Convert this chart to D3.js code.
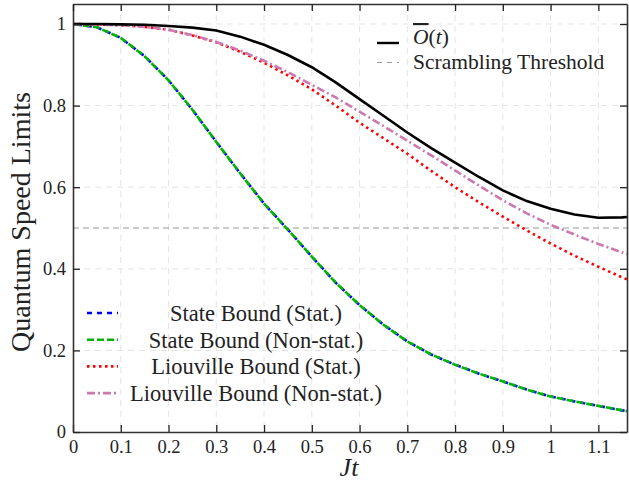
<!DOCTYPE html>
<html>
<head>
<meta charset="utf-8">
<script src="https://cdn.jsdelivr.net/npm/d3@7"></script>
<style>
  body { margin: 0; background: #fff; }
  text { fill: #222; }
</style>
</head>
<body>
<svg></svg>
<script>
// data
let times      = [0, 0.05, 0.1, 0.15, 0.2, 0.25, 0.3, 0.35, 0.4, 0.45, 0.5, 0.55, 0.6, 0.65, 0.7, 0.75, 0.8, 0.85, 0.9, 0.95, 1.0, 1.05, 1.1, 1.15, 1.16]
let otoc       = [1, 1.0, 0.999, 0.998, 0.995, 0.991, 0.984, 0.969, 0.949, 0.924, 0.894, 0.857, 0.816, 0.775, 0.734, 0.696, 0.660, 0.625, 0.592, 0.566, 0.547, 0.533, 0.525, 0.526, 0.527]
let stateStat  = [1, 0.992, 0.966, 0.921, 0.862, 0.790, 0.711, 0.634, 0.560, 0.496, 0.430, 0.366, 0.311, 0.263, 0.222, 0.190, 0.165, 0.143, 0.124, 0.104, 0.087, 0.075, 0.064, 0.053, 0.051]
let stateNon   = [1, 0.992, 0.966, 0.921, 0.862, 0.790, 0.711, 0.634, 0.560, 0.496, 0.430, 0.366, 0.311, 0.263, 0.222, 0.190, 0.165, 0.143, 0.124, 0.104, 0.087, 0.075, 0.064, 0.053, 0.051]
let liouStat   = [1, 0.999, 0.997, 0.993, 0.986, 0.972, 0.955, 0.932, 0.905, 0.874, 0.840, 0.800, 0.758, 0.720, 0.682, 0.640, 0.600, 0.563, 0.528, 0.494, 0.462, 0.432, 0.405, 0.379, 0.374]
let liouNon    = [1, 0.999, 0.997, 0.993, 0.986, 0.973, 0.956, 0.935, 0.910, 0.882, 0.851, 0.820, 0.785, 0.750, 0.714, 0.678, 0.641, 0.604, 0.568, 0.536, 0.508, 0.484, 0.461, 0.440, 0.436]
let threshold  = 0.5
let xTicks = [0, 0.1, 0.2, 0.3, 0.4, 0.5, 0.6, 0.7, 0.8, 0.9, 1, 1.1]
let yTicks = [0, 0.2, 0.4, 0.6, 0.8, 1]

let serif = 'Liberation Serif'

let width = 629, height = 491
let margin = {top: 4, right: 2, bottom: 59, left: 73}
let innerWidth = width - margin.left - margin.right,
    innerHeight = height - margin.top - margin.bottom

let svg = d3.select('svg').attr('width', width).attr('height', height)
let g = svg.append('g').attr('transform', 'translate(' + margin.left + ',' + margin.top + ')')

let xScale = d3.scaleLinear().domain([0, 1.16]).range([0, innerWidth])
let yScale = d3.scaleLinear().domain([0, 1.049]).range([innerHeight, 0])

// grid
g.append('g').selectAll('line').data(xTicks.slice(1)).enter().append('line')
  .attr('x1', d => xScale(d)).attr('x2', d => xScale(d))
  .attr('y1', 0).attr('y2', innerHeight)
  .attr('stroke', '#e4e4e4').attr('stroke-dasharray', '6,5')
g.append('g').selectAll('line').data(yTicks.slice(1)).enter().append('line')
  .attr('x1', 0).attr('x2', innerWidth)
  .attr('y1', d => yScale(d)).attr('y2', d => yScale(d))
  .attr('stroke', '#e4e4e4').attr('stroke-dasharray', '6,5')

// threshold
g.append('line')
  .attr('x1', 0).attr('x2', innerWidth)
  .attr('y1', yScale(threshold)).attr('y2', yScale(threshold))
  .attr('stroke', '#999').attr('stroke-width', 1.2).attr('stroke-dasharray', '6,4')

let line = vals => d3.line().x((d, i) => xScale(times[i])).y(d => yScale(d))(vals)

let series = [
  {name: 'State Bound (Stat.)', vals: stateStat, color: '#0000ff', dash: '5,5', off: -4, w: 2.6},
  {name: 'State Bound (Non-stat.)', vals: stateNon, color: '#00b400', dash: '7,3', off: 0, w: 2.6},
  {name: 'Liouville Bound (Stat.)', vals: liouStat, color: '#ff0000', dash: '2.5,3.5', off: 0, w: 2.6},
  {name: 'Liouville Bound (Non-stat.)', vals: liouNon, color: '#cc79b0', dash: '8,3,2,3', off: 0, w: 2.6}
]

let clip = svg.append('clipPath').attr('id', 'clip').append('rect')
  .attr('width', innerWidth).attr('height', innerHeight)
let plot = g.append('g').attr('clip-path', 'url(#clip)')

series.forEach(s => {
  plot.append('path').attr('d', line(s.vals))
    .attr('fill', 'none').attr('stroke', s.color)
    .attr('stroke-width', s.w).attr('stroke-dasharray', s.dash)
    .attr('stroke-dashoffset', s.off)
})
plot.append('path').attr('d', line(otoc))
  .attr('fill', 'none').attr('stroke', '#000').attr('stroke-width', 2.6)

// axes with inward ticks
let fmt = d => d3.format('')(d)
let xAxis = d3.axisBottom(xScale).tickValues(xTicks).tickSizeInner(-7).tickSizeOuter(0).tickPadding(8).tickFormat(fmt)
let yAxis = d3.axisLeft(yScale).tickValues(yTicks).tickSizeInner(-7).tickSizeOuter(0).tickPadding(7).tickFormat(fmt)
let xTop = d3.axisTop(xScale).tickValues(xTicks).tickSizeInner(-7).tickSizeOuter(0).tickFormat('')
let yRight = d3.axisRight(yScale).tickValues(yTicks).tickSizeInner(-7).tickSizeOuter(0).tickFormat('')

let axes = [
  g.append('g').attr('transform', 'translate(0,' + innerHeight + ')').call(xAxis),
  g.append('g').call(yAxis),
  g.append('g').call(xTop),
  g.append('g').attr('transform', 'translate(' + innerWidth + ',0)').call(yRight)
]
axes.forEach(a => {
  a.attr('font-family', serif).attr('font-size', 18.5)
  a.select('.domain').attr('stroke', '#333').attr('stroke-width', 1.6)
  a.selectAll('.tick line').attr('stroke', '#222').attr('stroke-width', 1.3)
  a.selectAll('.tick text').attr('fill', '#222')
})
// top and right axes carry ticks only
axes[2].selectAll('.tick text').remove()
axes[3].selectAll('.tick text').remove()

// axis titles
svg.append('text')
  .attr('transform', 'translate(24,222) rotate(-90)')
  .attr('text-anchor', 'middle').attr('dominant-baseline', 'middle')
  .attr('font-family', serif).attr('font-size', 28).text('Quantum Speed Limits')
svg.append('text')
  .attr('x', 349).attr('y', 476)
  .attr('text-anchor', 'middle').attr('font-family', serif).attr('font-size', 26).attr('font-style', 'italic')
  .text('Jt')

// top right legend
let lg1 = svg.append('g').attr('font-family', serif).attr('font-size', 21.5)
lg1.append('line').attr('x1', 377).attr('x2', 399).attr('y1', 43).attr('y2', 43)
  .attr('stroke', '#000').attr('stroke-width', 2.4)
let oText = lg1.append('text').attr('x', 413).attr('y', 44)
oText.append('tspan').attr('font-style', 'italic').attr('text-decoration', 'overline').text('O')
oText.append('tspan').text('(')
oText.append('tspan').attr('font-style', 'italic').text('t')
oText.append('tspan').text(')')
lg1.append('line').attr('x1', 377).attr('x2', 399).attr('y1', 62.5).attr('y2', 62.5)
  .attr('stroke', '#999').attr('stroke-width', 1.2).attr('stroke-dasharray', '5,5')
lg1.append('text').attr('x', 413).attr('y', 68.5).text('Scrambling Threshold')

// bottom left legend
let lg2 = svg.append('g').attr('font-family', serif).attr('font-size', 22.5)
series.forEach((s, i) => {
  let y = 313 + i * 26.7
  lg2.append('line').attr('x1', 87).attr('x2', 118).attr('y1', y).attr('y2', y)
    .attr('stroke', s.color).attr('stroke-width', s.w).attr('stroke-dasharray', s.dash)
  lg2.append('text').attr('x', 256).attr('y', y).attr('dy', '0.35em')
    .attr('text-anchor', 'middle').text(s.name)
})
</script>
</body>
</html>
